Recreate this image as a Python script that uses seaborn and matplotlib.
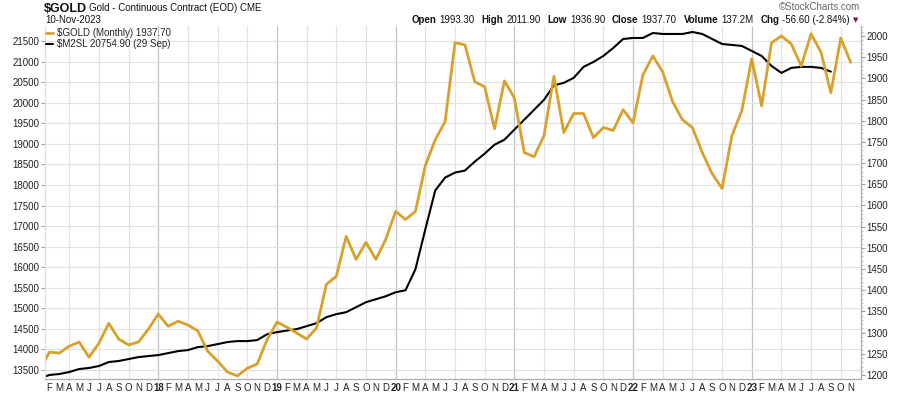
import matplotlib
matplotlib.use("Agg")
import numpy as np
import pandas as pd
import matplotlib.pyplot as plt
import seaborn as sns
from matplotlib.ticker import MultipleLocator

# Monthly gold close, Jan 2017 - Nov 2023
gold = [1211, 1254, 1252, 1268, 1278, 1242, 1275, 1322, 1285, 1271, 1278, 1308,
        1344, 1315, 1327, 1318, 1304, 1256, 1233, 1207, 1198, 1216, 1226, 1283,
        1325, 1313, 1299, 1285, 1311, 1414, 1433, 1527, 1473, 1513, 1473, 1520,
        1586, 1567, 1586, 1694, 1755, 1798, 1984, 1979, 1892, 1880, 1781, 1894,
        1854, 1725, 1715, 1765, 1905, 1772, 1817, 1817, 1760, 1784, 1777, 1826,
        1795, 1908, 1953, 1915, 1845, 1802, 1784, 1725, 1675, 1640, 1765, 1824,
        1946, 1835, 1984, 2000, 1981, 1929, 2005, 1962, 1866, 1995, 1937.7]

# M2 money stock, Jan 2017 - Sep 2023
m2sl = [13300, 13380, 13404, 13452, 13525, 13550, 13598, 13695, 13720, 13767, 13815, 13840,
        13864, 13912, 13960, 13985, 14058, 14082, 14131, 14180, 14204, 14204, 14228, 14370,
        14422, 14460, 14495, 14567, 14640, 14786, 14858, 14907, 15028, 15149, 15222, 15294,
        15391, 15440, 15950, 16920, 17864, 18179, 18300, 18349, 18567, 18761, 18979, 19100,
        19343, 19585, 19827, 20070, 20420, 20482, 20603, 20870, 20991, 21136, 21330, 21548,
        21573, 21573, 21694, 21670, 21670, 21670, 21718, 21670, 21548, 21427, 21403, 21379,
        21258, 21136, 20894, 20724, 20845, 20870, 20870, 20845, 20755]

month_letters = list("JFMAMJJASOND")
year_labels = ["17", "18", "19", "20", "21", "22", "23"]

gold_label = "$GOLD (Monthly) 1937.70"
m2_label = "$M2SL 20754.90 (29 Sep)"

quote_fields = [("Open", "1993.30"), ("High", "2011.90"), ("Low", "1936.90"),
                ("Close", "1937.70"), ("Volume", "137.2M"), ("Chg", "-56.60 (-2.84%)")]

GOLD_C = "#DAA02C"

sns.set_style("white")
plt.rcParams["font.family"] = ["Liberation Sans", "DejaVu Sans"]

fig = plt.figure(figsize=(9, 3.98), dpi=100)
ax = fig.add_axes([0.05, 0.0477, 0.9067, 0.887])
ax2 = ax.twinx()

df_m2 = pd.DataFrame({"m": np.arange(len(m2sl)), "v": m2sl})
df_gold = pd.DataFrame({"m": np.arange(len(gold)), "v": gold})

sns.lineplot(data=df_m2, x="m", y="v", ax=ax, color="black", linewidth=1.5, label=m2_label, legend=False)
sns.lineplot(data=df_gold, x="m", y="v", ax=ax2, color=GOLD_C, linewidth=2.0, label=gold_label, legend=False)

ax.set_xlim(0.55, 83.05)
ax.set_ylim(13282, 21864)
ax2.set_ylim(1190.6, 2023.5)

# grid
ax.set_yticks(np.arange(13500, 21501, 500))
ax.yaxis.grid(True, color="#e2e2e2", linewidth=0.8)
for i in range(3, 84, 3):
    ax.axvline(i, color="#c4c4c4" if i % 12 == 0 else "#e2e2e2", linewidth=0.9, zorder=0)
ax.set_axisbelow(True)

# x ticks: month letters, year number at January
pos = list(range(1, 83))
labels = [year_labels[i // 12] if i % 12 == 0 else month_letters[i % 12] for i in pos]
ax.set_xticks(pos)
ax.set_xticklabels(labels)
for t, i in zip(ax.get_xticklabels(), pos):
    if i % 12 == 0:
        t.set_fontweight("bold")
ax.tick_params(axis="x", length=2, width=0.6, color="#999999", labelsize=7, pad=1, labelcolor="#222222")
ax.tick_params(axis="y", length=3, width=0.6, color="#888888", labelsize=7, pad=1, labelcolor="#222222")

ax2.set_yticks(np.arange(1200, 2001, 50))
ax2.yaxis.set_minor_locator(MultipleLocator(10))
ax2.tick_params(axis="y", which="major", length=3, width=0.6, color="#888888", labelsize=7, pad=1, labelcolor="#222222")
ax2.tick_params(axis="y", which="minor", length=1.5, width=0.5, color="#aaaaaa")
ax2.grid(False)

ax.set_xlabel("")
ax.set_ylabel("")
ax2.set_ylabel("")
for a in (ax, ax2):
    a.spines["top"].set_visible(False)
    a.spines["left"].set_color("#dddddd")
    a.spines["right"].set_color("#aaaaaa")
    a.spines["bottom"].set_color("#aaaaaa")

# legend
h1, l1 = ax2.get_legend_handles_labels()
h2, l2 = ax.get_legend_handles_labels()
ax2.legend(h1 + h2, l1 + l2, loc="upper left", bbox_to_anchor=(0.0, 0.997),
           frameon=False, fontsize=7, handlelength=0.7, handletextpad=0.4,
           labelspacing=0.1, borderaxespad=0.0, borderpad=0.1)

# header texts
def px(x, y):
    return x / 900, 1 - y / 398

fig.text(*px(44, 9), "$GOLD", fontsize=9, fontweight="bold", va="center", color="#111111")
fig.text(*px(89, 8), "Gold - Continuous Contract (EOD) CME", fontsize=7, va="center", color="#111111")
fig.text(*px(45, 20), "10-Nov-2023", fontsize=7, va="center", color="#111111")
fig.text(*px(860, 7), "\u00a9StockCharts.com", fontsize=7, va="center", ha="right", color="#666666")

# quote line, laid out right to left so it ends before the marker
fig.canvas.draw()
renderer = fig.canvas.get_renderer()
x_right = 850
pieces = []
for k, (lab, val) in enumerate(quote_fields):
    pieces.append(fig.text(0, 0, lab, fontsize=7, fontweight="bold", va="center", color="#111111"))
    pieces.append(fig.text(0, 0, val, fontsize=7, va="center", color="#111111"))
widths = [p.get_window_extent(renderer).width for p in pieces]
x = x_right
for idx in range(len(pieces) - 1, -1, -1):
    x -= widths[idx]
    pieces[idx].set_position(px(x, 20))
    x -= 3 if idx % 2 == 1 else 7
fig.text(*px(853, 20), "\u25bc", fontsize=5, va="center", color="#8b1a2b", family=["DejaVu Sans"])

fig.savefig("out.png", dpi=100)
